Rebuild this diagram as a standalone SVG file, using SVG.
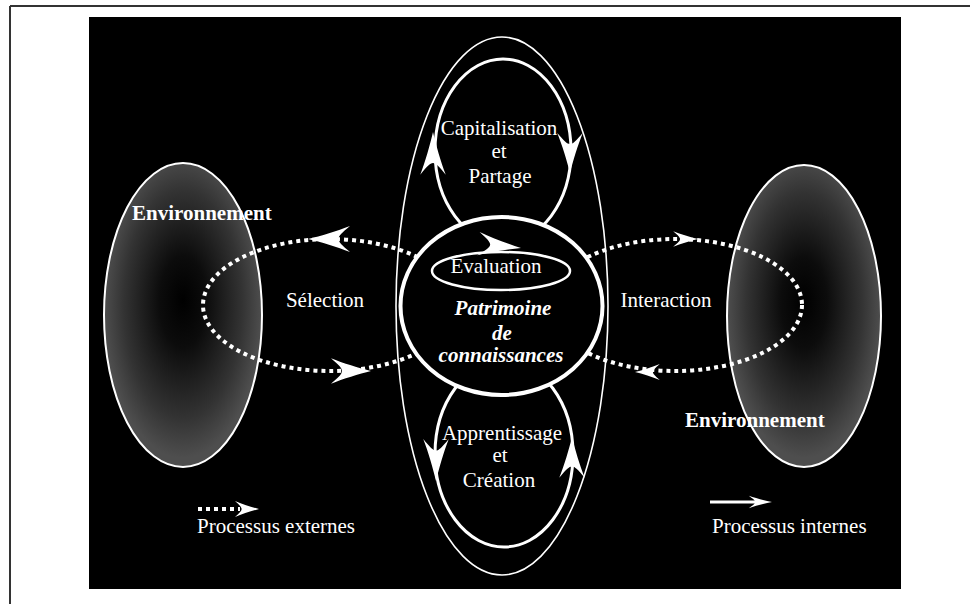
<svg xmlns="http://www.w3.org/2000/svg" xmlns:xlink="http://www.w3.org/1999/xlink" width="970" height="604" viewBox="0 0 970 604">
  <defs>
    <radialGradient id="envShade" cx="0.5" cy="0.47" r="0.5" fx="0.5" fy="0.45">
      <stop offset="0" stop-color="#000"/>
      <stop offset="0.3" stop-color="#0c0c0c"/>
      <stop offset="0.75" stop-color="#333"/>
      <stop offset="1" stop-color="#4e4e4e"/>
    </radialGradient>
    <!-- swept-back arrowhead, tip at origin, pointing right -->
    <path id="head" d="M0,0 C-12,-3 -28,-8 -40,-13 C-32,-6 -29,-3 -29,0 C-29,3 -32,6 -40,13 C-28,8 -12,3 0,0 Z" fill="#fff"/>
    <style>
      .txt { font-family: "Liberation Serif", "Times New Roman", serif; font-size: 21px; fill: #fff; }
      .mid { text-anchor: middle; }
      .bold { font-weight: bold; }
      .bi { font-weight: bold; font-style: italic; }
      .dots { fill: none; stroke: #fff; stroke-width: 4; stroke-dasharray: 4 4; }
      .loop { fill: none; stroke: #fff; stroke-width: 3; }
      .env { fill: url(#envShade); stroke: #fff; stroke-width: 2; }
    </style>
  </defs>

  <!-- page frame -->
  <rect x="0" y="0" width="970" height="604" fill="#fff"/>
  <line x1="10" y1="6" x2="970" y2="6" stroke="#333" stroke-width="2"/>
  <line x1="10" y1="6" x2="10" y2="604" stroke="#333" stroke-width="2"/>

  <!-- black panel -->
  <rect x="89" y="17" width="812" height="572" fill="#000"/>

  <!-- environments -->
  <g id="env-left">
    <ellipse class="env" cx="183" cy="315" rx="79" ry="152"/>
  </g>
  <g id="env-right">
    <ellipse class="env" cx="804" cy="316" rx="77" ry="151"/>
  </g>

  <!-- external process loops and their arrowheads -->
  <g id="connectors">
    <ellipse class="dots" cx="330" cy="305" rx="127" ry="66"/>
    <ellipse class="dots" cx="675" cy="305" rx="127" ry="66"/>
    <use xlink:href="#head" transform="translate(308,239) rotate(180) scale(1.05,1)"/>
    <use xlink:href="#head" transform="translate(371,371) scale(1,0.98)"/>
    <use xlink:href="#head" transform="translate(698,239) scale(0.62,0.6)"/>
    <use xlink:href="#head" transform="translate(635,372) rotate(180) scale(0.62,0.62)"/>
  </g>

  <!-- enclosing organisation outline -->
  <g id="organisation">
    <ellipse cx="502" cy="306" rx="106" ry="269" fill="none" stroke="#fff" stroke-width="1.6"/>
  </g>

  <!-- internal loops -->
  <g id="loop-capitalisation">
    <ellipse class="loop" cx="503" cy="151" rx="68" ry="92"/>
    <use xlink:href="#head" transform="translate(433,132) rotate(-90) scale(1.07,0.98)"/>
    <use xlink:href="#head" transform="translate(570,173) rotate(90) scale(1.0,0.98)"/>
    <text class="txt mid" x="499" y="135">Capitalisation</text>
    <text class="txt mid" x="499" y="158">et</text>
    <text class="txt mid" x="500" y="183">Partage</text>
  </g>

  <g id="loop-apprentissage">
    <ellipse class="loop" cx="504" cy="454" rx="69" ry="93"/>
    <use xlink:href="#head" transform="translate(436,481) rotate(90) scale(1.05,0.98)"/>
    <use xlink:href="#head" transform="translate(572,437) rotate(-90) scale(1.02,0.98)"/>
    <text class="txt mid" x="502" y="440">Apprentissage</text>
    <text class="txt mid" x="500" y="462">et</text>
    <text class="txt mid" x="499" y="487">Création</text>
  </g>

  <!-- knowledge core -->
  <g id="patrimoine">
    <ellipse cx="501.5" cy="306" rx="101" ry="89" fill="#000" stroke="#fff" stroke-width="4"/>
    <text class="txt mid bi" x="503" y="315">Patrimoine</text>
    <text class="txt mid bi" x="502" y="340">de</text>
    <text class="txt mid bi" x="501" y="362">connaissances</text>
  </g>

  <g id="evaluation">
    <ellipse cx="501" cy="271" rx="69" ry="19" fill="none" stroke="#fff" stroke-width="2.5"/>
    <use xlink:href="#head" transform="translate(521,248) rotate(6) scale(1.07,0.9)"/>
    <text class="txt mid" x="496" y="273">Evaluation</text>
  </g>

  <!-- loop labels -->
  <g id="labels">
    <text class="txt mid" x="325" y="307">Sélection</text>
    <text class="txt mid" x="666" y="307">Interaction</text>
    <text class="txt bold" x="132" y="220">Environnement</text>
    <text class="txt bold" x="685" y="427">Environnement</text>
  </g>

  <!-- legend -->
  <g id="legend">
    <line class="dots" x1="198" y1="509" x2="240" y2="509"/>
    <use xlink:href="#head" transform="translate(259,509) scale(0.6,0.62)"/>
    <text class="txt" x="197" y="533">Processus externes</text>
    <line x1="710" y1="502" x2="762" y2="502" stroke="#fff" stroke-width="3"/>
    <use xlink:href="#head" transform="translate(772,502) scale(0.58,0.48)"/>
    <text class="txt" x="712" y="533">Processus internes</text>
  </g>
</svg>
